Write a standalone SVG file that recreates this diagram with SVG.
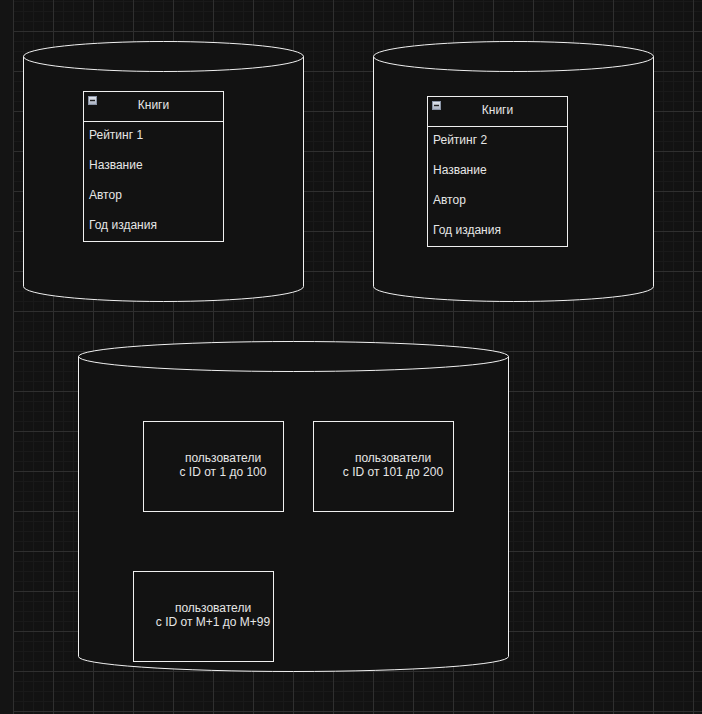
<svg xmlns="http://www.w3.org/2000/svg" width="702" height="714" viewBox="0 0 702 714">
<defs>
<pattern id="grid" patternUnits="userSpaceOnUse" x="13" y="31" width="40" height="40">
<rect width="40" height="40" fill="#121212"/>
<path d="M10.5,0V40M20.5,0V40M30.5,0V40M0,10.5H40M0,20.5H40M0,30.5H40" stroke="#191919" stroke-width="1" fill="none"/>
<path d="M0.5,0V40M0,0.5H40" stroke="#2f2f2f" stroke-width="1" fill="none"/>
</pattern>
<linearGradient id="ig" x1="0" y1="0" x2="0" y2="1">
<stop offset="0" stop-color="#e4e8f0"/>
<stop offset="1" stop-color="#a8b0c0"/>
</linearGradient>
<symbol id="minus" viewBox="0 0 9 9">
<rect x="0.5" y="0.5" width="8" height="8" fill="url(#ig)" stroke="#8a94a6"/>
<path d="M2,4.5H7" stroke="#222" stroke-width="1.4"/>
</symbol>
</defs>
<style>
.bg{fill:#141414}
.cyl{fill:#121212;stroke:#f0f0f0;stroke-width:1}
.box{fill:#121212;stroke:#f0f0f0;stroke-width:1}
.ln{stroke:#f0f0f0;stroke-width:1;fill:none}
text{font-family:"Liberation Sans",Arial,Helvetica,sans-serif;font-size:12px;fill:#e6e6e6}
.c{text-anchor:middle}
</style>
<rect class="bg" x="0" y="0" width="702" height="714"/>
<rect x="13" y="0" width="689" height="714" fill="url(#grid)"/>

<g id="db1">
<path class="cyl" d="M23.5,56.5A140,15 0 0 1 303.5,56.5L303.5,286.5A140,15 0 0 1 23.5,286.5Z"/>
<path class="ln" d="M23.5,56.5A140,15 0 0 0 303.5,56.5"/>
</g>
<g id="db2">
<path class="cyl" d="M373.5,56.5A140,15 0 0 1 653.5,56.5L653.5,286.5A140,15 0 0 1 373.5,286.5Z"/>
<path class="ln" d="M373.5,56.5A140,15 0 0 0 653.5,56.5"/>
</g>
<g id="db3">
<path class="cyl" d="M78.5,356.5A215,15 0 0 1 508.5,356.5L508.5,656.5A215,15 0 0 1 78.5,656.5Z"/>
<path class="ln" d="M78.5,356.5A215,15 0 0 0 508.5,356.5"/>
</g>

<g id="table1">
<rect class="box" x="83.5" y="91.5" width="140" height="150"/>
<path class="ln" d="M83.5,121.5H223.5"/>
<use href="#minus" x="88" y="96" width="9" height="9"/>
<text class="c" x="153.5" y="109">Книги</text>
<text x="89" y="139">Рейтинг 1</text>
<text x="89" y="169">Название</text>
<text x="89" y="199">Автор</text>
<text x="89" y="229">Год издания</text>
</g>

<g id="table2">
<rect class="box" x="427.5" y="96.5" width="140" height="150"/>
<path class="ln" d="M427.5,126.5H567.5"/>
<use href="#minus" x="432" y="101" width="9" height="9"/>
<text class="c" x="497.5" y="114">Книги</text>
<text x="433" y="144">Рейтинг 2</text>
<text x="433" y="174">Название</text>
<text x="433" y="204">Автор</text>
<text x="433" y="234">Год издания</text>
</g>

<g id="users1">
<rect class="box" x="143.5" y="421.5" width="140" height="90"/>
<text class="c" x="223" y="462">пользователи</text>
<text class="c" x="223" y="476">с ID от 1 до 100</text>
</g>
<g id="users2">
<rect class="box" x="313.5" y="421.5" width="140" height="90"/>
<text class="c" x="393" y="462">пользователи</text>
<text class="c" x="393" y="476">с ID от 101 до 200</text>
</g>
<g id="users3">
<rect class="box" x="133.5" y="571.5" width="140" height="90"/>
<text class="c" x="213" y="612">пользователи</text>
<text class="c" x="213" y="626">с ID от M+1 до M+99</text>
</g>

<g id="connectors"></g>
</svg>
